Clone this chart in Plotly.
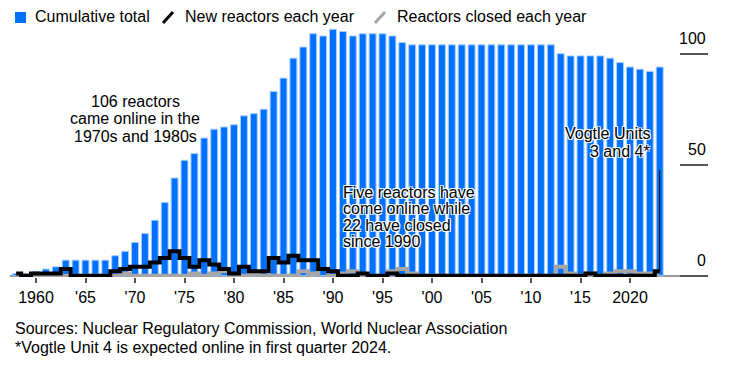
import plotly.graph_objects as go

# ---------------- data ----------------
years = [1958, 1959, 1960, 1961, 1962, 1963, 1964, 1965, 1966, 1967,
         1968, 1969, 1970, 1971, 1972, 1973, 1974, 1975, 1976, 1977,
         1978, 1979, 1980, 1981, 1982, 1983, 1984, 1985, 1986, 1987,
         1988, 1989, 1990, 1991, 1992, 1993, 1994, 1995, 1996, 1997,
         1998, 1999, 2000, 2001, 2002, 2003, 2004, 2005, 2006, 2007,
         2008, 2009, 2010, 2011, 2012, 2013, 2014, 2015, 2016, 2017,
         2018, 2019, 2020, 2021, 2022, 2023]

cumulative_total = [1, 1, 2, 3, 4, 7, 7, 7, 7, 7,
                    9, 11, 15, 19, 25, 33, 44, 52, 55, 62,
                    66, 67, 68, 72, 73, 75, 83, 89, 98, 103,
                    109, 108, 111, 110, 108, 109, 109, 109, 108, 105,
                    104, 104, 104, 104, 104, 104, 104, 104, 104, 104,
                    104, 104, 104, 104, 104, 100, 99, 99, 99, 99,
                    98, 96, 94, 93, 92, 94]

new_reactors = [1, 0, 1, 1, 1, 3, 0, 0, 0, 0,
                2, 3, 4, 4, 6, 8, 11, 8, 4, 7,
                5, 3, 1, 4, 2, 2, 8, 6, 9, 7,
                7, 3, 2, 0, 0, 1, 0, 0, 1, 0,
                0, 0, 0, 0, 0, 0, 0, 0, 0, 0,
                0, 0, 0, 0, 0, 0, 0, 0, 1, 0,
                0, 0, 0, 0, 0, 2]

reactors_closed = [0, 0, 0, 0, 0, 0, 0, 0, 0, 0,
                   0, 1, 0, 0, 0, 0, 0, 0, 1, 0,
                   1, 2, 0, 0, 1, 0, 0, 0, 0, 2,
                   1, 3, 0, 1, 2, 0, 0, 0, 2, 3,
                   1, 0, 0, 0, 0, 0, 0, 0, 0, 0,
                   0, 0, 0, 0, 0, 4, 1, 0, 1, 0,
                   1, 2, 2, 1, 1, 0]

tick_years = [1960, 1965, 1970, 1975, 1980, 1985, 1990, 1995, 2000, 2005, 2010, 2015, 2020]
tick_labels = ["1960", "'65", "'70", "'75", "'80", "'85", "'90", "'95", "'00", "'05", "'10", "'15", "2020"]
y_ticks = [0, 50, 100]
y_tick_labels = ["0", "50", "100"]

legend_labels = ["Cumulative total", "New reactors each year", "Reactors closed each year"]

# ---------------- style ----------------
BLUE = "#0071ff"
BAR_EDGE = "#a8cfff"
GRAY = "#a6a6a6"
FONT = "Liberation Sans, Arial, Helvetica, sans-serif"

OFF = 8                      # default page body margin
PAGE_W, PAGE_H = 729, 366
W, H = PAGE_W - OFF, PAGE_H - OFF
# plot area in page pixels
P_LEFT, P_RIGHT, P_TOP, P_BOTTOM = 10, 708, 25, 277
ML, MR = P_LEFT - OFF, W - (P_RIGHT - OFF)
MT, MB = P_TOP - OFF, H - (P_BOTTOM - OFF)
PW, PH = P_RIGHT - P_LEFT, P_BOTTOM - P_TOP


def px_x(px):
    return (px - P_LEFT) / PW


def px_y(py):
    return (P_BOTTOM - py) / PH


fig = go.Figure()
fig.add_bar(x=years, y=cumulative_total, name=legend_labels[0],
            marker=dict(color=BLUE, line=dict(color=BAR_EDGE, width=1)),
            showlegend=False)
fig.add_scatter(x=years, y=reactors_closed, name=legend_labels[2], mode="lines",
                line=dict(color=GRAY, width=4, shape="hvh"), showlegend=False)
fig.add_scatter(x=years, y=new_reactors, name=legend_labels[1], mode="lines",
                line=dict(color="black", width=4, shape="hvh"), showlegend=False)

annotations = []
shapes = []

# custom legend
shapes.append(dict(type="rect", xref="paper", yref="paper",
                   x0=px_x(15), x1=px_x(26), y0=px_y(23), y1=px_y(12),
                   fillcolor=BLUE, line=dict(width=0)))
shapes.append(dict(type="line", xref="paper", yref="paper",
                   x0=px_x(163), x1=px_x(173), y0=px_y(23), y1=px_y(12),
                   line=dict(color="black", width=3)))
shapes.append(dict(type="line", xref="paper", yref="paper",
                   x0=px_x(375), x1=px_x(385), y0=px_y(23), y1=px_y(12),
                   line=dict(color=GRAY, width=3)))
for lab, lx in zip(legend_labels, [33, 183, 395]):
    annotations.append(dict(text=lab, xref="paper", yref="paper", x=px_x(lx), y=px_y(17),
                            xanchor="left", yanchor="middle", showarrow=False,
                            font=dict(family=FONT, size=16, color="black")))

HALO = "1px 1px 0px white, -1px -1px 0px white, 1px -1px 0px white, -1px 1px 0px white"


def add_lines(lines, x, ys, anchor, halo=False):
    for t, yy in zip(lines, ys):
        f = dict(family=FONT, size=16, color="black")
        if halo:
            f["shadow"] = HALO
        annotations.append(dict(text=t, xref="paper", yref="paper", x=px_x(x), y=px_y(yy),
                                xanchor=anchor, yanchor="middle", showarrow=False, font=f))


add_lines(["106 reactors", "came online in the", "1970s and 1980s"], 135, [101, 118.5, 136], "center")
add_lines(["Five reactors have", "come online while", "22 have closed", "since 1990"], 341,
          [192, 208.5, 225, 241.5], "left", halo=True)
add_lines(["Vogtle Units", "3 and 4*"], 652, [133.5, 151], "right", halo=True)

# y tick labels placed above the short right-hand tick marks
for v, lab in zip(y_ticks, y_tick_labels):
    annotations.append(dict(text=lab, xref="paper", yref="y", x=px_x(708), y=v,
                            xanchor="right", yanchor="middle", yshift=15.5, showarrow=False,
                            font=dict(family=FONT, size=16, color="black")))

# pointer line to the 2023 value
shapes.append(dict(type="line", xref="x", yref="y", x0=years[-1], x1=years[-1],
                   y0=new_reactors[-1], y1=47.5, line=dict(color="black", width=1)))

# footer
annotations.append(dict(text="Sources: Nuclear Regulatory Commission, World Nuclear Association",
                        xref="paper", yref="paper", x=px_x(13), y=px_y(328), xanchor="left",
                        yanchor="middle", showarrow=False, font=dict(family=FONT, size=16, color="black")))
annotations.append(dict(text="*Vogtle Unit 4 is expected online in first quarter 2024.",
                        xref="paper", yref="paper", x=px_x(13), y=px_y(347), xanchor="left",
                        yanchor="middle", showarrow=False, font=dict(family=FONT, size=16, color="black")))

PX_PER_YEAR = 9.9
PX_PER_UNIT = 2.22
zero_py = 275.7

fig.update_layout(
    width=W, height=H,
    margin=dict(l=ML, r=MR, t=MT, b=MB, autoexpand=False),
    paper_bgcolor="white", plot_bgcolor="white",
    bargap=0.3,
    font=dict(family=FONT, size=16, color="black"),
    showlegend=False,
    annotations=annotations,
    shapes=shapes,
    xaxis=dict(range=[1960 - (36 - P_LEFT) / PX_PER_YEAR, 2020 + (P_RIGHT - 630) / PX_PER_YEAR],
               tickvals=tick_years, ticktext=tick_labels,
               ticks="outside", ticklen=5, tickwidth=1.5, tickcolor="#555",
               showgrid=False, zeroline=False, showline=False,
               tickfont=dict(family=FONT, size=16, color="black"), ticklabelstandoff=1),
    yaxis=dict(range=[-(P_BOTTOM - zero_py) / PX_PER_UNIT, (zero_py - P_TOP) / PX_PER_UNIT],
               side="right", tickvals=y_ticks, ticks="inside", ticklen=28, tickwidth=1.5,
               tickcolor="#555", showticklabels=False,
               showgrid=False, showline=False,
               zeroline=True, zerolinecolor="#999", zerolinewidth=2),
)

fig.write_html("out.html")
